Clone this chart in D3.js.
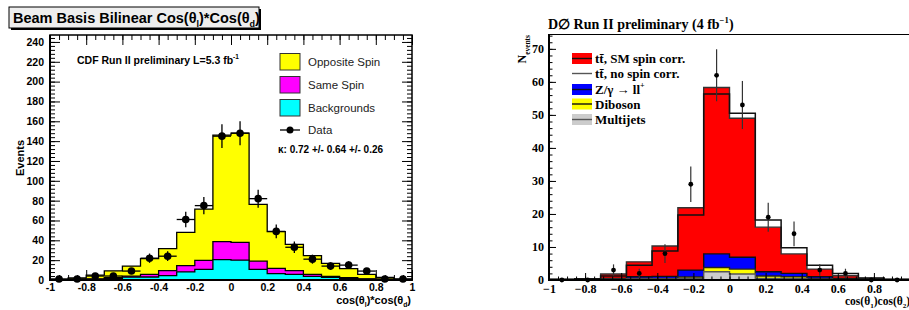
<!DOCTYPE html>
<html>
<head>
<meta charset="utf-8">
<script src="https://cdn.jsdelivr.net/npm/d3@7"></script>
<style>
  body { margin: 0; background: #fff; }
  svg { display: block; }
  .cdf text { font-family: "Liberation Sans", Arial, sans-serif; font-weight: bold; fill: #000; }
  .cdf .tick text { font-size: 10.5px; }
  .cdf .legend text { font-weight: normal; font-size: 11.5px; fill: #222; }
  .d0 text { font-family: "Liberation Serif", "Times New Roman", serif; font-weight: bold; fill: #000; }
  .d0 .tick text { font-size: 12px; }
</style>
</head>
<body>
<div id="chart"></div>
<script>
// ---------- left panel: CDF, 20 bins ----------
const cdfEdges = [-1, -0.9, -0.8, -0.7, -0.6, -0.5, -0.4, -0.3, -0.2, -0.1, 0,
                  0.1, 0.2, 0.3, 0.4, 0.5, 0.6, 0.7, 0.8, 0.9, 1];
const cdfBackgrounds  = [0.2, 0.4, 0.7, 1.5, 2.8, 3.0, 4.4, 8.1, 10.8, 20.5, 20.0, 10.8, 6.4, 5.7, 3.7, 2.7, 1.7, 0.8, 0.4, 0.2];
const cdfSameSpin     = [0.1, 0.2, 0.5, 0.8, 1.2, 2.7, 5.0, 6.4, 9.0, 18.1, 18.0, 8.2, 5.4, 3.7, 2.0, 1.0, 0.7, 0.4, 0.2, 0.1];
const cdfOppositeSpin = [0.3, 1.4, 3.8, 7.0, 10.0, 15.8, 22.2, 33.5, 51.7, 107.4, 110.0, 57.3, 36.9, 26.6, 18.8, 13.1, 9.0, 4.5, 2.1, 0.5];
const cdfData         = [1, 1, 4, 4, 9, 22, 24, 61, 75, 145, 148, 82, 49, 33, 21, 14, 15, 9, 1, 1];
const cdfXTicks = [-1, -0.8, -0.6, -0.4, -0.2, 0, 0.2, 0.4, 0.6, 0.8, 1];
const cdfXTickLabels = ["-1", "-0.8", "-0.6", "-0.4", "-0.2", "0", "0.2", "0.4", "0.6", "0.8", "1"];
const cdfYTicks = [0, 20, 40, 60, 80, 100, 120, 140, 160, 180, 200, 220, 240];

// ---------- right panel: D0, 14 bins ----------
const d0Edges = [-1, -0.857, -0.714, -0.571, -0.429, -0.286, -0.143, 0,
                 0.143, 0.286, 0.429, 0.571, 0.714, 0.857, 1];
const d0Multijets = [0.03, 0.05, 0.15, 0.3, 0.3, 0.4, 2.5, 1.8, 0.5, 0.4, 0.2, 0.1, 0.05, 0.03];
const d0Diboson   = [0.02, 0.05, 0.15, 0.2, 0.2, 0.5, 1.3, 1.5, 0.7, 0.6, 0.2, 0.1, 0.05, 0.02];
const d0Zll       = [0.05, 0.1, 0.2, 0.5, 0.6, 2.1, 4.1, 3.6, 1.3, 1.0, 0.6, 0.3, 0.1, 0.05];
const d0TtSM      = [0.1, 0.2, 1.3, 4.5, 9.2, 18.9, 50.4, 42.1, 13.5, 5.9, 2.3, 0.8, 0.3, 0.1];
const d0TtNoSpin  = [0.1, 0.2, 0.7, 3.5, 7.7, 16.7, 48.4, 43.6, 15.7, 7.8, 3.5, 1.5, 0.4, 0.15];
const d0Data      = [0, 0, 3, 2, 8, 29, 62, 53, 19, 14, 3, 2, 0, 0];
const d0XTicks = [-1, -0.8, -0.6, -0.4, -0.2, 0, 0.2, 0.4, 0.6, 0.8];
const d0XTickLabels = ["\u22121", "\u22120.8", "\u22120.6", "\u22120.4", "\u22120.2", "0", "0.2", "0.4", "0.6", "0.8"];
const d0YTicks = [0, 10, 20, 30, 40, 50, 60, 70];

const svg = d3.select("#chart").append("svg")
    .attr("width", 909)
    .attr("height", 310);

// text with sub/superscript pieces
function richText(t, parts, fs) {
  let shift = 0;
  parts.forEach(p => {
    const off = p.sub ? fs * 0.3 : p.sup ? -fs * 0.45 : 0;
    t.append("tspan")
        .attr("dy", off - shift)
        .attr("font-size", (p.sub || p.sup) ? fs * 0.62 : null)
        .text(p.t);
    shift = off;
  });
  return t;
}

// step outline points for a histogram (last edge repeats last bin)
function stepPts(edges, vals) {
  const pts = vals.map((v, i) => ({x: edges[i], v: v}));
  pts.push({x: edges[edges.length - 1], v: vals[vals.length - 1]});
  return pts;
}

function tickAxis(g, axis, pos, values, size, labels, pad) {
  const a = g.append("g")
      .attr("transform", pos)
      .call(axis.tickValues(values).tickSize(size).tickPadding(labels ? (pad || 4) : 0)
        .tickFormat(labels ? (d => labels[values.indexOf(d)]) : ""));
  a.select(".domain").remove();
  a.selectAll(".tick line").attr("stroke", "#000");
  return a;
}

// ================= CDF =================
(function() {
  const g = svg.append("g").attr("class", "cdf");
  const x = d3.scaleLinear().domain([-1, 1]).range([50, 412]);
  const y = d3.scaleLinear().domain([0, 247]).range([280, 35]);

  // title box
  g.append("rect").attr("x", 11).attr("y", 9).attr("width", 250).attr("height", 21).attr("fill", "#000");
  g.append("rect").attr("x", 9).attr("y", 7).attr("width", 250).attr("height", 21)
      .attr("fill", "#eeeeee").attr("stroke", "#000").attr("stroke-width", 1);
  richText(g.append("text").attr("x", 13).attr("y", 23).attr("font-size", 14.5),
    [{t: "Beam Basis Bilinear Cos(\u03b8"}, {t: "l", sub: true}, {t: ")*Cos(\u03b8"}, {t: "d", sub: true}, {t: ")"}], 14.5);

  // ticks (drawn under the histograms)
  const xMinor = d3.range(-1, 1.0001, 0.05);
  const yMinor = d3.range(0, 247, 4);
  tickAxis(g, d3.axisBottom(x), "translate(0,280)", xMinor, -5, null);
  tickAxis(g, d3.axisBottom(x), "translate(0,280)", cdfXTicks, -10, cdfXTickLabels);
  tickAxis(g, d3.axisTop(x), "translate(0,35)", xMinor, -5, null);
  tickAxis(g, d3.axisTop(x), "translate(0,35)", cdfXTicks, -10, null);
  tickAxis(g, d3.axisLeft(y), "translate(50,0)", yMinor, -5, null);
  tickAxis(g, d3.axisLeft(y), "translate(50,0)", cdfYTicks, -10, cdfYTicks.map(String), 6);
  tickAxis(g, d3.axisRight(y), "translate(412,0)", yMinor, -5, null);
  tickAxis(g, d3.axisRight(y), "translate(412,0)", cdfYTicks, -10, null);

  // stacked histograms, ROOT style: cumulative, tallest drawn first
  const rows = cdfData.map((_, i) => ({bkg: cdfBackgrounds[i], same: cdfSameSpin[i], opp: cdfOppositeSpin[i]}));
  const stack = d3.stack().keys(["bkg", "same", "opp"])(rows);
  const colors = {bkg: "#00ffff", same: "#ff00ff", opp: "#ffff00"};
  const area = d3.area().curve(d3.curveStepAfter)
      .x(p => x(p.x)).y0(y(0)).y1(p => y(p.v));
  stack.slice().reverse().forEach(layer => {
    g.append("path")
        .datum(stepPts(cdfEdges, layer.map(d => d[1])))
        .attr("d", area)
        .attr("fill", colors[layer.key])
        .attr("stroke", "#000")
        .attr("stroke-width", 1.3);
  });

  // frame
  g.append("rect").attr("x", 50).attr("y", 35).attr("width", 362).attr("height", 245)
      .attr("fill", "none").attr("stroke", "#000").attr("stroke-width", 1.5);
  g.append("line").attr("x1", 50).attr("x2", 50).attr("y1", 35).attr("y2", 281).attr("stroke", "#000").attr("stroke-width", 2);
  g.append("line").attr("x1", 49).attr("x2", 412).attr("y1", 280).attr("y2", 280).attr("stroke", "#000").attr("stroke-width", 2);

  // data points
  const pts = g.append("g");
  cdfData.forEach((n, i) => {
    const xc = (cdfEdges[i] + cdfEdges[i + 1]) / 2;
    const e = Math.sqrt(n);
    pts.append("line").attr("x1", x(cdfEdges[i])).attr("x2", x(cdfEdges[i + 1]))
        .attr("y1", y(n)).attr("y2", y(n)).attr("stroke", "#000").attr("stroke-width", 1.3);
    pts.append("line").attr("x1", x(xc)).attr("x2", x(xc))
        .attr("y1", y(Math.max(0, n - e))).attr("y2", y(n + e)).attr("stroke", "#000").attr("stroke-width", 1.3);
    pts.append("circle").attr("cx", x(xc)).attr("cy", y(n)).attr("r", 3.8).attr("fill", "#000");
  });

  // axis titles
  richText(g.append("text").attr("x", 411).attr("y", 304).attr("text-anchor", "end").attr("font-size", 11),
    [{t: "cos(\u03b8"}, {t: "l", sub: true}, {t: ")*cos(\u03b8"}, {t: "d", sub: true}, {t: ")"}], 11);
  g.append("text").attr("transform", "translate(24,158) rotate(-90)")
      .attr("text-anchor", "middle").attr("font-size", 11).text("Events");

  richText(g.append("text").attr("x", 77).attr("y", 64).attr("font-size", 10.5).attr("fill", "#222"),
    [{t: "CDF Run II preliminary L=5.3 fb"}, {t: "-1", sup: true}], 10.5);

  // legend
  const leg = g.append("g").attr("class", "legend");
  const entries = [
    {label: "Opposite Spin", fill: "#ffff00", y: 53.5},
    {label: "Same Spin", fill: "#ff00ff", y: 76.5},
    {label: "Backgrounds", fill: "#00ffff", y: 99.5}
  ];
  entries.forEach(e => {
    leg.append("rect").attr("x", 280).attr("y", e.y).attr("width", 20).attr("height", 16.5)
        .attr("fill", e.fill).attr("stroke", "#333").attr("stroke-width", 1);
    leg.append("text").attr("x", 308).attr("y", e.y + 12).text(e.label);
  });
  leg.append("line").attr("x1", 280).attr("x2", 300).attr("y1", 130).attr("y2", 130).attr("stroke", "#000").attr("stroke-width", 1.3);
  leg.append("circle").attr("cx", 290).attr("cy", 130).attr("r", 3.5).attr("fill", "#000");
  leg.append("text").attr("x", 308).attr("y", 134).text("Data");
  g.append("text").attr("x", 278).attr("y", 153).attr("font-size", 10).attr("fill", "#222")
      .text("\u03ba: 0.72 +/- 0.64 +/- 0.26");
})();

// ================= D0 =================
(function() {
  const g = svg.append("g").attr("class", "d0");
  const x = d3.scaleLinear().domain([-1, 1]).range([549, 910]);
  const y = d3.scaleLinear().domain([0, 74.5]).range([280, 34]);

  const rows = d0Data.map((_, i) => ({mj: d0Multijets[i], vv: d0Diboson[i], z: d0Zll[i], tt: d0TtSM[i]}));
  const stack = d3.stack().keys(["mj", "vv", "z", "tt"])(rows);
  const fills = {mj: "#cccccc", vv: "#ffff00", z: "#0000ff", tt: "#ff0000"};
  const strokes = {mj: "#555", vv: "#222", z: "#111", tt: "#333"};
  const area = d3.area().curve(d3.curveStepAfter)
      .x(p => x(p.x)).y0(y(0)).y1(p => y(p.v));
  stack.slice().reverse().forEach(layer => {
    g.append("path")
        .datum(stepPts(d0Edges, layer.map(d => d[1])))
        .attr("d", area)
        .attr("fill", fills[layer.key])
        .attr("stroke", strokes[layer.key])
        .attr("stroke-width", 1.4);
  });

  // tt without spin correlation, stacked on the same backgrounds
  const bkgTop = stack[2].map(d => d[1]);
  const noSpin = d0TtNoSpin.map((v, i) => v + bkgTop[i]);
  const line = d3.line().curve(d3.curveStepAfter).x(p => x(p.x)).y(p => y(p.v));
  g.append("path")
      .datum(stepPts(d0Edges, noSpin))
      .attr("d", line)
      .attr("fill", "none").attr("stroke", "#111").attr("stroke-width", 1.5);

  // axes
  const xMinor = d3.range(-1, 1.0001, 0.05);
  const yMinor = d3.range(0, 74.5, 2);
  tickAxis(g, d3.axisBottom(x), "translate(0,280)", xMinor, -3.5, null);
  tickAxis(g, d3.axisBottom(x), "translate(0,280)", d0XTicks, -7, d0XTickLabels, 4);
  tickAxis(g, d3.axisLeft(y), "translate(549,0)", yMinor, -3.5, null);
  tickAxis(g, d3.axisLeft(y), "translate(549,0)", d0YTicks, -7, d0YTicks.map(String), 5);
  g.append("line").attr("x1", 549).attr("x2", 549).attr("y1", 34).attr("y2", 281).attr("stroke", "#000").attr("stroke-width", 2);
  g.append("line").attr("x1", 548).attr("x2", 909).attr("y1", 280).attr("y2", 280).attr("stroke", "#000").attr("stroke-width", 2);
  g.append("line").attr("x1", 549).attr("x2", 909).attr("y1", 34.5).attr("y2", 34.5).attr("stroke", "#000").attr("stroke-width", 1);

  // data
  const pts = g.append("g");
  d0Data.forEach((n, i) => {
    const xc = (d0Edges[i] + d0Edges[i + 1]) / 2;
    const e = Math.sqrt(n);
    if (n > 0) {
      pts.append("line").attr("x1", x(xc)).attr("x2", x(xc))
          .attr("y1", y(n - e)).attr("y2", y(n + e)).attr("stroke", "#333").attr("stroke-width", 1.2);
    }
    pts.append("circle").attr("cx", x(xc)).attr("cy", y(n)).attr("r", 2.4).attr("fill", "#000");
  });

  // titles
  richText(g.append("text").attr("x", 548).attr("y", 29).attr("font-size", 14),
    [{t: "D\u2205 Run II preliminary (4 fb"}, {t: "\u22121", sup: true}, {t: ")"}], 14);
  richText(g.append("text").attr("transform", "translate(526,35) rotate(-90)")
      .attr("text-anchor", "end").attr("font-size", 12),
    [{t: "N"}, {t: "events", sub: true}], 12);
  richText(g.append("text").attr("x", 845).attr("y", 305).attr("font-size", 11.5),
    [{t: "cos(\u03b8"}, {t: "1", sub: true}, {t: ")cos(\u03b8"}, {t: "2", sub: true}, {t: ")"}], 11.5);

  // legend
  const leg = g.append("g");
  const entries = [
    {label: "tt\u0304, SM spin corr.", fill: "#ff0000", line: "#111", cy: 58.5},
    {label: "tt\u0304, no spin corr.", fill: null, line: "#555", cy: 73.5},
    {label: null, fill: "#0000ff", line: "#111", cy: 89.5},
    {label: "Diboson", fill: "#ffff00", line: "#111", cy: 104},
    {label: "Multijets", fill: "#cccccc", line: "#555", cy: 119.5}
  ];
  entries.forEach(e => {
    if (e.fill) leg.append("rect").attr("x", 572).attr("y", e.cy - 5.5).attr("width", 20).attr("height", 11).attr("fill", e.fill);
    leg.append("line").attr("x1", 572).attr("x2", 592).attr("y1", e.cy).attr("y2", e.cy)
        .attr("stroke", e.line).attr("stroke-width", 1.4);
    if (e.label) leg.append("text").attr("x", 595).attr("y", e.cy + 4.5).attr("font-size", 13).text(e.label);
  });
  richText(leg.append("text").attr("x", 595).attr("y", 94).attr("font-size", 13),
    [{t: "Z/\u03b3 \u2192 ll"}, {t: "+", sup: true}], 13);
})();
</script>
</body>
</html>
